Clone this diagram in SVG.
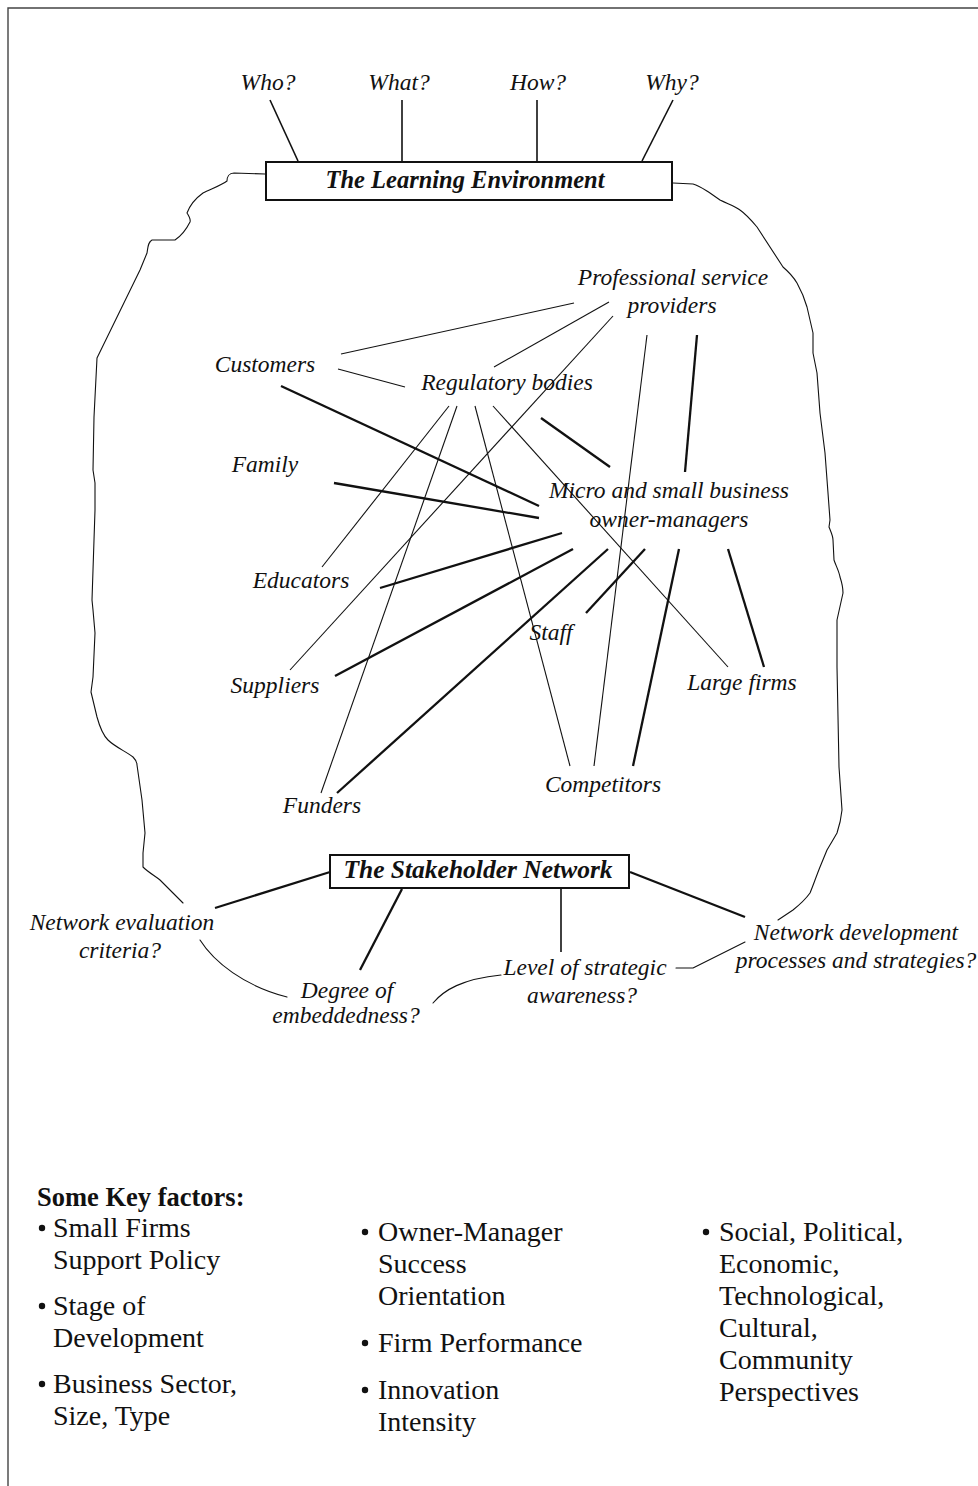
<svg xmlns="http://www.w3.org/2000/svg" width="978" height="1486" viewBox="0 0 978 1486">
  <style>
    .lbl { font-family: "Liberation Serif", "Times New Roman", serif; font-style: italic; font-size: 23.5px; fill: #111; text-anchor: middle; }
    .ttl { font-family: "Liberation Serif", "Times New Roman", serif; font-style: italic; font-weight: bold; fill: #111; text-anchor: middle; }
    .key { font-family: "Liberation Serif", "Times New Roman", serif; font-size: 28px; fill: #111; }
    .head { font-family: "Liberation Serif", "Times New Roman", serif; font-size: 26.5px; font-weight: bold; fill: #111; }
    .thin { stroke: #111; stroke-width: 1.1; fill: none; }
    .thick { stroke: #111; stroke-width: 2.3; fill: none; }
    .mid { stroke: #111; stroke-width: 1.6; fill: none; }
    .contour { stroke: #111; stroke-width: 1.1; fill: none; stroke-linejoin: round; stroke-linecap: round; }
    .box { fill: #fff; stroke: #111; stroke-width: 2; }
    .bullet { fill: #111; }
  </style>

  <!-- page frame -->
  <path d="M8,1486 V8 H978" fill="none" stroke="#444" stroke-width="1.4"/>

  <!-- connectors -->
  <g id="connectors">
    <!-- questions above the learning environment -->
    <line class="mid" x1="270" y1="100" x2="298" y2="161"/>
    <line class="mid" x1="402" y1="100" x2="402" y2="161"/>
    <line class="mid" x1="537" y1="100" x2="537" y2="161"/>
    <line class="mid" x1="673" y1="100" x2="642" y2="161"/>

    <!-- stakeholder web: thin links -->
    <line class="thin" x1="341" y1="354" x2="574" y2="303"/>
    <line class="thin" x1="338" y1="369" x2="405" y2="387"/>
    <line class="thin" x1="494" y1="367" x2="609" y2="302"/>
    <line class="thin" x1="613" y1="316" x2="290" y2="670"/>
    <line class="thin" x1="647" y1="335" x2="594" y2="766"/>
    <line class="thin" x1="449" y1="406" x2="322" y2="567"/>
    <line class="thin" x1="457" y1="406" x2="321" y2="793"/>
    <line class="thin" x1="475" y1="406" x2="570" y2="766"/>
    <line class="thin" x1="493" y1="406" x2="728" y2="667"/>

    <!-- stakeholder web: links to owner-managers -->
    <line class="thick" x1="697" y1="335" x2="685" y2="472"/>
    <line class="thick" x1="541" y1="418" x2="610" y2="467"/>
    <line class="thick" x1="281" y1="386" x2="539" y2="506"/>
    <line class="thick" x1="334" y1="483" x2="539" y2="518"/>
    <line class="thick" x1="562" y1="533" x2="380" y2="588"/>
    <line class="thick" x1="573" y1="549" x2="335" y2="676"/>
    <line class="thick" x1="608" y1="549" x2="337" y2="793"/>
    <line class="thick" x1="645" y1="549" x2="586" y2="613"/>
    <line class="thick" x1="679" y1="549" x2="633" y2="766"/>
    <line class="thick" x1="728" y1="549" x2="764" y2="667"/>

    <!-- stakeholder network questions -->
    <line class="thick" x1="330" y1="872" x2="215" y2="908"/>
    <line class="thick" x1="630" y1="872" x2="745" y2="917"/>
    <line class="thick" x1="402" y1="889" x2="360" y2="970"/>
    <line class="mid" x1="561" y1="889" x2="561" y2="952"/>

    <!-- curved ties between the questions -->
    <path class="contour" d="M200,940 C214,962 244,986 287,997"/>
    <path class="contour" d="M433,1003 C444,990 462,979 501,975"/>
    <path class="contour" d="M676,968 L693,968 L745,942"/>

    <!-- outline of the learning environment, left side -->
    <path class="contour" d="M265,174 L234,173 C229,173 227,177 227,181 C222,185 211,189 203,193 C196,198 190,205 187,213 C189,216 191,219 190,222 C187,228 181,236 175,240 L152,240 C148,242 148,247 147,253 L140,270 L97,358 L94,417 L93,470 L95,483 L95,510 L92,600 L93,610 L95,633 L93,677 L91,692 L97,717 C100,728 104,736 108,740 C115,747 127,752 133,757 C136,760 137,763 137,765 L142,800 L145,833 L143,853 L143,867 C148,872 155,876 160,880 L173,893 L183,903"/>

    <!-- outline of the learning environment, right side -->
    <path class="contour" d="M673,183 L693,184 C700,186 705,190 710,193 L720,200 C728,204 735,206 740,210 C747,215 752,221 757,227 L783,267 C790,273 794,278 797,283 C802,292 805,300 807,307 L813,333 L813,353 L817,373 L820,413 L825,453 L828,493 L830,520 L829,527 C831,532 833,536 833,540 L834,560 C836,566 839,571 840,577 C842,583 843,588 843,593 L837,620 L837,667 L839,767 L842,810 C841,820 839,827 837,833 C833,840 830,845 827,850 L820,867 C816,877 813,886 810,893 C805,900 798,906 793,910 L778,920"/>
  </g>

  <!-- questions -->
  <g id="q-who"><text class="lbl" x="268" y="90">Who?</text></g>
  <g id="q-what"><text class="lbl" x="399" y="90">What?</text></g>
  <g id="q-how"><text class="lbl" x="538" y="90">How?</text></g>
  <g id="q-why"><text class="lbl" x="672" y="90">Why?</text></g>

  <!-- the learning environment -->
  <g id="learning-environment">
    <rect class="box" x="266" y="162" width="406" height="38"/>
    <text class="ttl" x="465" y="188" font-size="24.5">The Learning Environment</text>
  </g>

  <!-- stakeholders -->
  <g id="professional-service-providers">
    <text class="lbl" x="673" y="285">Professional service</text>
    <text class="lbl" x="672" y="313">providers</text>
  </g>
  <g id="customers"><text class="lbl" x="265" y="372">Customers</text></g>
  <g id="regulatory-bodies"><text class="lbl" x="507" y="390">Regulatory bodies</text></g>
  <g id="family"><text class="lbl" x="265" y="472">Family</text></g>
  <g id="owner-managers">
    <text class="lbl" x="669" y="498">Micro and small business</text>
    <text class="lbl" x="669" y="527">owner-managers</text>
  </g>
  <g id="educators"><text class="lbl" x="301" y="588">Educators</text></g>
  <g id="staff"><text class="lbl" x="551" y="640">Staff</text></g>
  <g id="suppliers"><text class="lbl" x="275" y="693">Suppliers</text></g>
  <g id="large-firms"><text class="lbl" x="742" y="690">Large firms</text></g>
  <g id="competitors"><text class="lbl" x="603" y="792">Competitors</text></g>
  <g id="funders"><text class="lbl" x="322" y="813">Funders</text></g>

  <!-- the stakeholder network -->
  <g id="stakeholder-network">
    <rect class="box" x="330" y="855" width="299" height="33"/>
    <text class="ttl" x="478" y="878" font-size="25.5">The Stakeholder Network</text>
  </g>
  <g id="evaluation-criteria">
    <text class="lbl" x="122" y="930">Network evaluation</text>
    <text class="lbl" x="120" y="958">criteria?</text>
  </g>
  <g id="embeddedness">
    <text class="lbl" x="347" y="998">Degree of</text>
    <text class="lbl" x="346" y="1023">embeddedness?</text>
  </g>
  <g id="strategic-awareness">
    <text class="lbl" x="585" y="975">Level of strategic</text>
    <text class="lbl" x="582" y="1003">awareness?</text>
  </g>
  <g id="development-processes">
    <text class="lbl" x="856" y="940">Network development</text>
    <text class="lbl" x="856" y="968">processes and strategies?</text>
  </g>

  <!-- key factors -->
  <g id="key-factors">
    <text class="head" x="37" y="1206">Some Key factors:</text>

    <circle class="bullet" cx="42" cy="1228" r="3.2"/>
    <text class="key" x="53" y="1237">Small Firms</text>
    <text class="key" x="53" y="1269">Support Policy</text>
    <circle class="bullet" cx="42" cy="1306" r="3.2"/>
    <text class="key" x="53" y="1315">Stage of</text>
    <text class="key" x="53" y="1347">Development</text>
    <circle class="bullet" cx="42" cy="1384" r="3.2"/>
    <text class="key" x="53" y="1393">Business Sector,</text>
    <text class="key" x="53" y="1425">Size, Type</text>

    <circle class="bullet" cx="365" cy="1232" r="3.2"/>
    <text class="key" x="378" y="1241">Owner-Manager</text>
    <text class="key" x="378" y="1273">Success</text>
    <text class="key" x="378" y="1305">Orientation</text>
    <circle class="bullet" cx="365" cy="1343" r="3.2"/>
    <text class="key" x="378" y="1352">Firm Performance</text>
    <circle class="bullet" cx="365" cy="1390" r="3.2"/>
    <text class="key" x="378" y="1399">Innovation</text>
    <text class="key" x="378" y="1431">Intensity</text>

    <circle class="bullet" cx="706" cy="1232" r="3.2"/>
    <text class="key" x="719" y="1241">Social, Political,</text>
    <text class="key" x="719" y="1273">Economic,</text>
    <text class="key" x="719" y="1305">Technological,</text>
    <text class="key" x="719" y="1337">Cultural,</text>
    <text class="key" x="719" y="1369">Community</text>
    <text class="key" x="719" y="1401">Perspectives</text>
  </g>
</svg>
